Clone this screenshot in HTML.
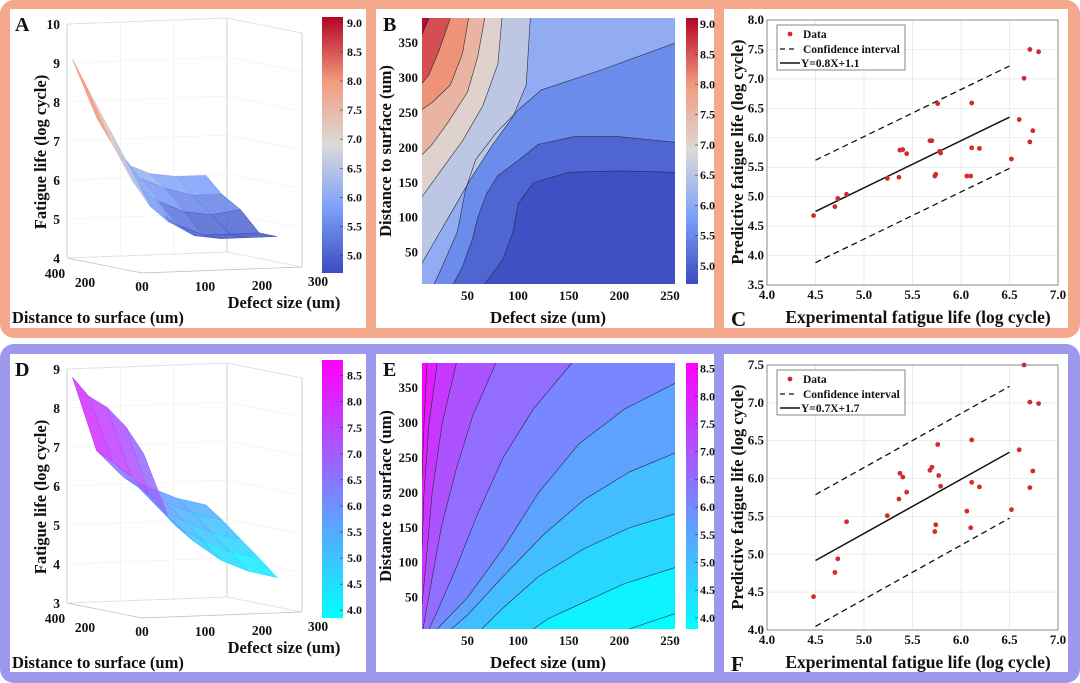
<!DOCTYPE html>
<html><head><meta charset="utf-8"><style>
html,body{margin:0;padding:0;background:#fff;}
svg{display:block;font-family:"Liberation Serif",serif;font-weight:bold;}
</style></head><body>
<svg id="fig" width="1080" height="683" viewBox="0 0 1080 683" xmlns="http://www.w3.org/2000/svg">
<rect x="0" y="0" width="1080" height="338" rx="14" fill="#f4a98d"/>
<rect x="0" y="344" width="1080" height="339" rx="14" fill="#9e98ec"/>
<rect x="10" y="9" width="356" height="319" fill="#fff"/>
<rect x="376" y="9" width="338" height="319" fill="#fff"/>
<rect x="724" y="9" width="344" height="319" fill="#fff"/>
<rect x="10" y="354" width="356" height="318" fill="#fff"/>
<rect x="376" y="354" width="338" height="318" fill="#fff"/>
<rect x="724" y="354" width="344" height="318" fill="#fff"/>
<g id="layer"></g>
</svg>
<script>
// ---------- DATA ----------
const cExp  = [4.48,4.70,4.73,4.82,5.24,5.36,5.37,5.40,5.44,5.68,5.70,5.73,5.74,5.76,5.78,5.79,6.06,6.10,6.11,6.11,6.19,6.52,6.60,6.65,6.71,6.71,6.74,6.80];
const cPred = [4.68,4.83,4.97,5.04,5.31,5.33,5.79,5.80,5.73,5.95,5.95,5.35,5.38,6.58,5.77,5.74,5.35,5.35,6.59,5.83,5.82,5.64,6.31,7.01,7.50,5.93,6.12,7.46];
const cFit = [0.8, 1.15];
const cCIOffset = 0.87;
const fExp  = [4.48,4.70,4.73,4.82,5.24,5.36,5.37,5.40,5.44,5.68,5.70,5.73,5.74,5.76,5.77,5.79,6.06,6.10,6.11,6.11,6.19,6.52,6.60,6.65,6.71,6.71,6.74,6.80];
const fPred = [4.44,4.76,4.94,5.43,5.51,5.73,6.07,6.02,5.82,6.11,6.15,5.30,5.39,6.45,6.04,5.90,5.57,5.35,6.51,5.95,5.89,5.59,6.38,7.50,7.01,5.88,6.10,6.99];
const fFit = [0.715, 1.70];
const fCIOffset = 0.87;
const scatterXTicks = [4.0,4.5,5.0,5.5,6.0,6.5,7.0];
const cYTicks = [3.5,4.0,4.5,5.0,5.5,6.0,6.5,7.0,7.5,8.0];
const fYTicks = [4.0,4.5,5.0,5.5,6.0,6.5,7.0,7.5];
const bLevels = [5.0,5.5,6.0,6.5,7.0,7.5,8.0,8.5,9.0];
const bBounds = [
 [[255,165],[200,167],[150,165],[115,150],[100,120],[95,80],[85,40],[67,5]],
 [[255,208],[200,216],[155,216],[120,205],[101,183],[80,160],[69,135],[60,100],[55,70],[45,30],[36,5]],
 [[255,350],[181,311],[123,283],[100,254],[78,221],[58,183],[48,140],[40,80],[25,30],[17,5]],
 [[112,386],[108,290],[95,245],[75,205],[55,160],[35,110],[15,60],[5,35]],
 [[84,386],[80,320],[65,260],[45,210],[25,170],[10,140],[5,130]],
 [[67,386],[60,330],[50,280],[30,235],[15,205],[5,190]],
 [[51,386],[45,335],[33,290],[15,265],[5,255]],
 [[33,386],[22,340],[12,305],[5,292]],
 [[12,386],[5,362]]
];
const eLevels = [4.0,4.5,5.0,5.5,6.0,6.5,7.0,7.5,8.0,8.5];
const eBounds = [
 [[255,27],[230,15],[210,5]],
 [[255,93],[205,70],[160,40],[130,20],[115,5]],
 [[255,170],[210,150],[165,120],[120,80],[85,35],[64,5]],
 [[255,257],[210,230],[165,190],[125,140],[85,80],[50,25],[34,5]],
 [[255,357],[205,320],[160,270],[120,200],[85,120],[50,50],[20,5]],
 [[153,386],[115,320],[85,250],[60,170],[38,90],[20,30],[12,5]],
 [[78,386],[55,310],[38,230],[24,150],[14,70],[6,5]],
 [[39,386],[25,300],[15,200],[9,100],[5,40]],
 [[20,386],[12,300],[7,200],[5,120]],
 [[10,386],[7,300],[5,220]]
];
const contourXTicks = [50,100,150,200,250];
const contourYTicks = [50,100,150,200,250,300,350];
const bBarTicks = [5.0,5.5,6.0,6.5,7.0,7.5,8.0,8.5,9.0];
const eBarTicks = [4.0,4.5,5.0,5.5,6.0,6.5,7.0,7.5,8.0,8.5];
const surfDefects = [5,50,100,150,200,255];
const surfDists = [5,100,200,300,385];
const aZ = [
 [6.3,5.3,4.9,4.8,4.8,4.8],
 [6.8,5.6,5.1,4.8,4.8,4.8],
 [7.6,6.2,5.6,5.3,5.2,5.3],
 [8.4,7.0,6.1,5.8,5.6,5.6],
 [9.1,7.6,6.4,6.1,6.0,6.0]];
const dZ = [
 [7.2,5.6,4.9,4.4,4.1,3.9],
 [7.8,6.0,5.2,4.8,4.5,4.3],
 [8.2,6.4,5.6,5.2,4.9,4.7],
 [8.4,6.7,6.0,5.6,5.3,5.1],
 [8.8,6.9,6.2,5.9,5.6,5.4]];
const aZTicks = [4,5,6,7,8,9,10];
const dZTicks = [3,4,5,6,7,8,9];
const aBarTicks = [5.0,5.5,6.0,6.5,7.0,7.5,8.0,8.5,9.0];
const dBarTicks = [4.0,4.5,5.0,5.5,6.0,6.5,7.0,7.5,8.0,8.5];

// ---------- HELPERS ----------
const NS="http://www.w3.org/2000/svg";
const layer=document.getElementById('layer');
function mk(tag,attrs,parent){const e=document.createElementNS(NS,tag);for(const k in attrs)e.setAttribute(k,attrs[k]);(parent||layer).appendChild(e);return e;}
function txt(x,y,s,size,anchor,parent,rot){const e=mk('text',{x:x,y:y,'font-size':size,'text-anchor':anchor||'start',fill:'#111'},parent);if(rot)e.setAttribute('transform','rotate(-90 '+x+' '+y+')');e.textContent=s;return e;}
function hex(c){return [parseInt(c.slice(1,3),16),parseInt(c.slice(3,5),16),parseInt(c.slice(5,7),16)];}
function interp(stops,t){t=Math.max(0,Math.min(1,t));const n=stops.length-1;const i=Math.min(n-1,Math.floor(t*n));const f=t*n-i;const a=hex(stops[i]),b=hex(stops[i+1]);return 'rgb('+a.map((v,k)=>Math.round(v+(b[k]-v)*f)).join(',')+')';}
const coolwarm=['#3b4cc0','#7b9ff9','#dcdad8','#f29a7c','#b40426'];
const cool=['#00ffff','#ff00ff'];
const fmt=v=>v.toFixed(1);

// ---------- SCATTER ----------
function scatter(pfx,oy,ymin,ymax,yTicks,xs,ys,fit,ci,eq,letter){
  const L=767,R=1058,T=oy+20,B=oy+285;
  const sx=v=>L+(v-4)/3*(R-L), sy=v=>B-(v-ymin)/(ymax-ymin)*(B-T);
  const g=mk('g',{});
  
  
  mk('rect',{x:L,y:T,width:R-L,height:B-T,fill:'#fff',stroke:'#777','stroke-width':0.8},g);
  scatterXTicks.forEach(v=>{mk('line',{x1:sx(v),x2:sx(v),y1:T,y2:B,stroke:'#e4e4e4','stroke-width':0.7},g);
    const t=txt(sx(v),B+14,fmt(v),13,'middle',g);});
  yTicks.forEach(v=>{mk('line',{x1:L,x2:R,y1:sy(v),y2:sy(v),stroke:'#e4e4e4','stroke-width':0.7},g);
    const t=txt(L-3,sy(v)+4,fmt(v),13,'end',g);});
  mk('rect',{x:L,y:T,width:R-L,height:B-T,fill:'none',stroke:'#777','stroke-width':0.8},g);
  const f=x=>fit[0]*x+fit[1];
  const l1=mk('line',{x1:sx(4.5),y1:sy(f(4.5)+ci),x2:sx(6.5),y2:sy(f(6.5)+ci),stroke:'#111','stroke-width':1.3,'stroke-dasharray':'6,4'},g);
  
  const l2=mk('line',{x1:sx(4.5),y1:sy(f(4.5)-ci),x2:sx(6.5),y2:sy(f(6.5)-ci),stroke:'#111','stroke-width':1.3,'stroke-dasharray':'6,4'},g);
  
  const l3=mk('line',{x1:sx(4.5),y1:sy(f(4.5)),x2:sx(6.5),y2:sy(f(6.5)),stroke:'#111','stroke-width':1.5},g);
  
  xs.forEach((x,i)=>{const c=mk('circle',{cx:sx(x),cy:sy(ys[i]),r:2.4,fill:'#d42a2e'},g);
    });
  const lg=mk('g',{},g);
  mk('rect',{x:777,y:T+5,width:128,height:45,fill:'#fff',stroke:'#555','stroke-width':0.7},lg);
  mk('circle',{cx:790,cy:T+14,r:2.4,fill:'#d42a2e'},lg);txt(803,T+18,'Data',11.5,'start',lg);
  mk('line',{x1:780,x2:798,y1:T+29,y2:T+29,stroke:'#111','stroke-width':1.3,'stroke-dasharray':'5,4'},lg);txt(803,T+33,'Confidence interval',11.5,'start',lg);
  mk('line',{x1:780,x2:800,y1:T+43,y2:T+43,stroke:'#111','stroke-width':1.5},lg);txt(801,T+47,eq,11.5,'start',lg);
  const yt=txt(743,oy+152,'Predictive fatigue life (log cycle)',16.5,'middle',g,true);
  const xt=txt(918,oy+323,'Experimental fatigue life (log cycle)',17.5,'middle',g);
  const lt=txt(731,oy+326,letter,21,'start',g);
}
scatter('c',0,3.5,8.0,cYTicks,cExp,cPred,cFit,cCIOffset,'Y=0.8X+1.1','C');
scatter('f',345,4.0,7.5,fYTicks,fExp,fPred,fFit,fCIOffset,'Y=0.7X+1.7','F');

// ---------- COLORBAR ----------
function colorbar(id,x,w,top,bot,vmin,vmax,stops,ticks,labelX){
  const gid='grad'+id;
  const defs=mk('defs',{});const lgr=mk('linearGradient',{id:gid,x1:0,y1:1,x2:0,y2:0},defs);
  stops.forEach((c,i)=>mk('stop',{offset:i/(stops.length-1),'stop-color':c},lgr));
  const r=mk('rect',{x:x,y:top,width:w,height:bot-top,fill:'url(#'+gid+')'});
  
  ticks.forEach(v=>{const y=bot-(v-vmin)/(vmax-vmin)*(bot-top);
    mk('line',{x1:x+w-3,x2:x+w,y1:y,y2:y,stroke:'#333','stroke-width':0.6});
    const t=txt(labelX,y+4,fmt(v),12,'start');});
}

// ---------- CONTOUR ----------
function contour(pfx,oy,levels,bounds,colorOf,base,letter){
  const L=422,R=675,T=oy+18,B=oy+284;
  const xmin=5,xmax=255,ymin=5,ymax=386;
  const sx=v=>L+(v-xmin)/(xmax-xmin)*(R-L), sy=v=>B-(v-ymin)/(ymax-ymin)*(B-T);
  const g=mk('g',{});
  const cp=mk('clipPath',{id:'clip'+pfx},g);mk('rect',{x:L,y:T,width:R-L,height:B-T},cp);
  const cg=mk('g',{'clip-path':'url(#clip'+pfx+')'},g);
  mk('rect',{x:L,y:T,width:R-L,height:B-T,fill:base},cg);
  bounds.forEach((pts,i)=>{
    const poly=pts.slice();const first=pts[0],last=pts[pts.length-1];
    if(last[1]<=ymin+0.5)poly.push([xmin,ymin]);
    poly.push([xmin,ymax]);
    if(first[0]>=xmax-0.5)poly.push([xmax,ymax]);
    const p=mk('polygon',{points:poly.map(q=>sx(q[0])+','+sy(q[1])).join(' '),fill:colorOf(levels[i]+0.05)},cg);
    
  });
  bounds.forEach(pts=>{const l=mk('polyline',{points:pts.map(q=>sx(q[0])+','+sy(q[1])).join(' '),fill:'none',stroke:'#2a2a3a','stroke-width':0.6,'stroke-linejoin':'round'},cg);
    });
  contourXTicks.forEach(v=>{const t=txt(sx(v),B+16,String(v),13,'middle',g);});
  contourYTicks.forEach(v=>{const t=txt(L-4,sy(v)+4,String(v),13,'end',g);});
  const yt=txt(391,oy+151,'Distance to surface (um)',16.5,'middle',g,true);
  const xt=txt(548,oy+323,'Defect size (um)',17,'middle',g);
  const lt=txt(383,oy+31,letter,20,'start',g);
}
const bColor=v=>interp(coolwarm,(v-4.7)/(9.1-4.7));
const eColor=v=>interp(cool,(v-3.8)/(8.6-3.8));
contour('b',0,bLevels,bBounds,bColor,bColor(4.75),'B');
colorbar('b',686,12,18,284,4.7,9.1,coolwarm,bBarTicks,700);
contour('e',345,eLevels,eBounds,eColor,eColor(3.85),'E');
colorbar('e',686,12,363,629,3.8,8.6,cool,eBarTicks,700);

// ---------- SURFACE ----------
function surface(pfx,oy,Z,zmin,zTicks,colorOf,letter){
  const base=oy+273;
  const P=(d,s,z)=>[142+d/300*160-s/400*75, base-d/300*6-s/400*15-(z-zmin)*39];
  const g=mk('g',{});
  const top=zmin+6;
  const box=[[P(0,400,zmin),P(0,400,top)],[P(300,400,zmin),P(300,400,top)],[P(300,0,zmin),P(300,0,top)],
    [P(0,400,zmin),P(0,0,zmin)],[P(0,0,zmin),P(300,0,zmin)],[P(0,400,top),P(300,400,top)],[P(300,400,top),P(300,0,top)],
    [P(0,400,zmin),P(300,400,zmin)],[P(300,400,zmin),P(300,0,zmin)]];
  box.forEach(b=>mk('line',{x1:b[0][0],y1:b[0][1],x2:b[1][0],y2:b[1][1],stroke:'#bbb','stroke-width':0.7},g));
  zTicks.forEach(v=>{const a=P(0,400,v),b=P(300,400,v),c=P(300,0,v);
    mk('polyline',{points:a+' '+b+' '+c,fill:'none',stroke:'#eee','stroke-width':0.6},g);
    const t=txt(a[0]-7,a[1]+5,String(v),13.5,'end',g);});
  [100,200].forEach(d=>{const a=P(d,400,zmin),b=P(d,400,top);mk('line',{x1:a[0],y1:a[1],x2:b[0],y2:b[1],stroke:'#eee','stroke-width':0.6},g);});
  const quads=[];
  for(let i=0;i<surfDists.length-1;i++)for(let j=0;j<surfDefects.length-1;j++){
    quads.push({i,j,depth:surfDefects[j]*6/300+surfDists[i+1]*15/400});
  }
  quads.sort((a,b)=>b.depth-a.depth);
  quads.forEach(q=>{const i=q.i,j=q.j;
    const pts=[[j,i],[j+1,i],[j+1,i+1],[j,i+1]].map(k=>P(surfDefects[k[0]],surfDists[k[1]],Z[k[1]][k[0]]));
    const zavg=(Z[i][j]+Z[i][j+1]+Z[i+1][j]+Z[i+1][j+1])/4;
    const p=mk('polygon',{points:pts.map(p=>p.join(',')).join(' '),fill:colorOf(zavg),'fill-opacity':0.85,stroke:colorOf(zavg),'stroke-width':0.6},g);
    
  });
  [['400',55,oy+278],['200',85,oy+287],['00',142,oy+291],['100',205,oy+291],['200',262,oy+290],['300',318,oy+286]].forEach(a=>{
    const t=txt(a[1],a[2],a[0],13.5,'middle',g);});
  const zt=txt(46,oy+152,'Fatigue life (log cycle)',16.5,'middle',g,true);
  const xt=txt(284,oy+308,'Defect size (um)',16.5,'middle',g);
  const yt=txt(12,oy+323,'Distance to surface (um)',16.5,'start',g);
  const lt=txt(15,oy+31,letter,20,'start',g);
}
surface('a',0,aZ,4,aZTicks,bColor,'A');
colorbar('a',322,21,17,273,4.7,9.1,coolwarm,aBarTicks,347);
surface('d',345,dZ,3,dZTicks,eColor,'D');
colorbar('d',322,21,360,618,3.85,8.8,cool,dBarTicks,347);
</script>
</body></html>
